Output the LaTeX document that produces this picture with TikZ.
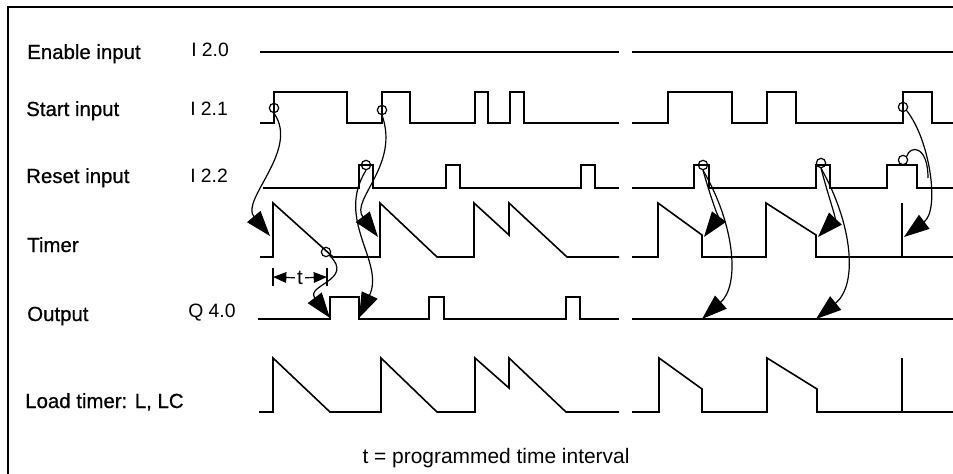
\documentclass[tikz,border=0pt]{standalone}
\usepackage{fontspec}
\setmainfont{Liberation Sans}
\newfontfamily\rowfont[FakeBold=0.6]{Liberation Sans}
\usetikzlibrary{arrows.meta}

\begin{document}
\begin{tikzpicture}[
  x=0.75pt, y=-0.75pt,
  font=\fontsize{15.5}{18}\selectfont,
  wave/.style={line width=1.2pt, line join=miter},
  link/.style={line width=0.9pt, -{Triangle[length=19pt, width=13pt]}},
  ring/.style={circle, draw, line width=0.9pt, minimum size=7pt, inner sep=0pt},
  rowname/.style={anchor=base west, inner sep=0pt, font=\rowfont\fontsize{15.3}{18}\selectfont},
  addr/.style={anchor=base west, inner sep=0pt, font=\fontsize{14.5}{17}\selectfont},
  dimline/.style={line width=0.9pt, -{Triangle[length=10pt, width=8pt]}}
]
\useasboundingbox (0,0) rectangle (953,474);

% frame (open to the right and bottom)
\draw[line width=1.5pt] (8,474) |- (953,7);

% =========================
% Row labels
% =========================
\node[rowname] (len) at (27,59) {Enable input};
\node[rowname] (lst) at (26,116) {Start input};
\node[rowname] (lrs) at (26,183) {Reset input};
\node[rowname] (ltm) at (27,252) {Timer};
\node[rowname] (lout) at (27,321) {Output};
\node[rowname] (lld) at (25,408) {Load timer: L, LC};

\node[addr] (aen) at (191,57) {I 2.0};
\node[addr] (ast) at (190,116) {I 2.1};
\node[addr] (ars) at (190,183) {I 2.2};
\node[addr] (aout) at (188,317) {Q 4.0};

% =========================
% Signals
% =========================
% enable
\draw[wave] (260,52) -- (619,52);
\draw[wave] (632,52) -- (953,52);

% start
\draw[wave] (260,123) -| (274,92) -| (347,123) -| (382,92) -| (410,123)
  -| (475,92) -| (488,123) -| (510,92) -| (524,123) -- (619,123);
\draw[wave] (632,123) -| (668,92) -| (732,123) -| (767,92) -| (796,123)
  -| (903,92) -| (932,123) -- (953,123);

% reset
\draw[wave] (263,188) -| (359,165) -| (373,188) -| (446,165) -| (460,188)
  -| (581,165) -| (595,188) -- (619,188);
\draw[wave] (632,188) -| (694,165) -| (709,188) -| (816,165) -| (830,188)
  -| (887,165) -| (917,188) -- (953,188);

% timer
\draw[wave] (260,257) -| (273,203) -- (333,257) -| (380,203) -- (437,257)
  -| (474,203) -- (509,235) -- (509,203) -- (567,257) -- (619,257);
\draw[wave] (632,257) -| (658,203) -- (702,235) -- (702,257) -| (766,203)
  -- (816,235) -- (816,257) -- (953,257);
\draw[wave] (902,257) -- (902,203);

% output
\draw[wave] (258,319) -| (330,297) -| (359,319) -| (429,297) -| (444,319)
  -| (566,297) -| (580,319) -- (619,319);
\draw[wave] (632,319) -- (953,319);

% load timer
\draw[wave] (259,412) -| (273,358) -- (330,412) -| (381,358) -- (437,412)
  -| (475,358) -- (509,388) -- (509,358) -- (566,412) -- (619,412);
\draw[wave] (632,412) -| (659,358) -- (702,389) -- (702,412) -| (767,358)
  -- (817,389) -- (817,412) -- (953,412);
\draw[wave] (902,412) -- (902,358);

% =========================
% Edges and effects
% =========================
\node[ring] (s1) at (274,108) {};
\node[ring] (s2) at (382,110) {};
\node[ring] (r1) at (366,165) {};
\node[ring] (k1) at (326,252) {};
\node[ring] (r2) at (703,165) {};
\node[ring] (r3) at (821,163) {};
\node[ring] (s3) at (903,107) {};
\node[ring] (r4) at (903,160) {};

\coordinate (a1) at (270,236);
\coordinate (a2) at (378,237);
\coordinate (a3) at (359,318);
\coordinate (a4) at (330,318);
\coordinate (a5) at (704,237);
\coordinate (a6) at (702,319);
\coordinate (a7) at (818,237);
\coordinate (a8) at (816,319);
\coordinate (a9) at (904,237);
\coordinate (merge) at (928,178);

\draw[link] (s1.south) .. controls (300,150) and (240,200) .. (a1);
\draw[link] (s2.south) .. controls (400,165) and (350,200) .. (a2);
\draw[link] (r1.south) .. controls (335,220) and (385,262) .. (a3);
\draw[link] (k1.south east) .. controls (355,280) and (305,285) .. (a4);
\draw[link] (r2.south) .. controls (710,195) and (718,218) .. (a5);
\draw[link] (r2.south) .. controls (735,225) and (740,285) .. (a6);
\draw[link] (r3.south) .. controls (828,195) and (836,218) .. (a7);
\draw[link] (r3.south) .. controls (853,225) and (858,285) .. (a8);
\draw[link] (s3.south east) .. controls (930,140) and (940,210) .. (a9);
\draw[line width=0.9pt] (r4.north east) .. controls (910,145) and (928,145) .. (merge);

% time interval t
\node[inner sep=1.5pt] (tlab) at (300,278) {t};
\coordinate (tl) at (273,277);
\coordinate (tr) at (327,277);
\draw[line width=1.2pt] (273,268) -- (273,286);
\draw[line width=1.2pt] (327,268) -- (327,286);
\draw[dimline] (tlab) -- (tl);
\draw[dimline] (tlab) -- (tr);

\node[anchor=base, font=\fontsize{15.7}{18}\selectfont] (note) at (496,463)
  {t = programmed time interval};

\end{tikzpicture}
\end{document}
